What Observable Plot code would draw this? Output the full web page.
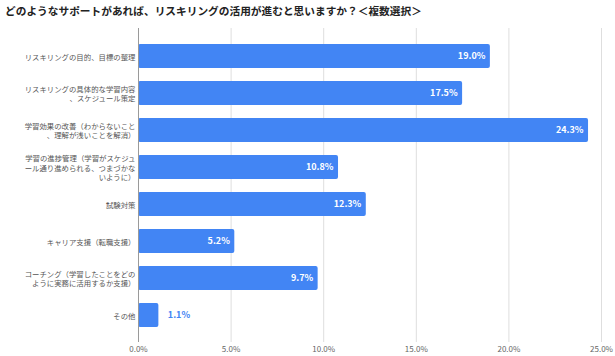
<!DOCTYPE html>
<html><head><meta charset="utf-8">
<script src="https://cdn.jsdelivr.net/npm/d3@7"></script>
<script src="https://cdn.jsdelivr.net/npm/@observablehq/plot@0.6"></script>
<style>
body{margin:0;background:#fff;font-family:"Noto Sans CJK JP","Noto Sans",sans-serif;}
#title{height:22px;line-height:21px;padding-left:5px;font-size:10.7px;font-weight:bold;color:#222;white-space:nowrap;}
</style></head><body>
<div id="title">どのようなサポートがあれば、リスキリングの活用が進むと思いますか？＜複数選択＞</div>
<div id="chart"></div>
<script>
const categories = [
  "リスキリングの目的、目標の整理",
  "リスキリングの具体的な学習内容\n、スケジュール策定",
  "学習効果の改善（わからないこと\n、理解が浅いことを解消）",
  "学習の進捗管理（学習がスケジュ\nール通り進められる、つまづかな\nいように）",
  "試験対策",
  "キャリア支援（転職支援）",
  "コーチング（学習したことをどの\nように実務に活用するか支援）",
  "その他"
];
const values = [19.0, 17.5, 24.3, 10.8, 12.3, 5.2, 9.7, 1.1];
const xTicks = [0, 5, 10, 15, 20, 25];

const data = categories.map((c, i) => ({category: c, value: values[i]}));
const fmt = v => v.toFixed(1) + "%";

const chart = Plot.plot({
  width: 615,
  height: 334,
  marginTop: 6,
  marginBottom: 14,
  marginLeft: 138,
  marginRight: 14,
  style: {fontFamily: '"Noto Sans CJK JP","Noto Sans",sans-serif', background: "#fff"},
  x: {domain: [0, 25], ticks: xTicks, tickFormat: d => d.toFixed(1) + "%", label: null},
  y: {domain: categories, padding: 0.36, label: null},
  marks: [
    Plot.ruleX(xTicks.filter(d => d > 0), {stroke: "#dedede", strokeWidth: 1}),
    Plot.barX(data, {x: "value", y: "category", fill: "#4285f4", rx: 2}),
    Plot.ruleX([0], {stroke: "#9a9a9a", strokeWidth: 1}),
    Plot.text(data.filter(d => d.value >= 3), {x: "value", y: "category", text: d => fmt(d.value), textAnchor: "end", dx: -5, fill: "#fff", fontWeight: "bold", fontSize: 9}),
    Plot.text(data.filter(d => d.value < 3), {x: "value", y: "category", text: d => fmt(d.value), textAnchor: "start", dx: 9, fill: "#4285f4", fontWeight: "bold", fontSize: 9}),
    Plot.axisX({ticks: xTicks, tickSize: 0, tickPadding: 4, fontSize: 8, color: "#666", tickFormat: d => d.toFixed(1) + "%"}),
    Plot.axisY({tickSize: 0, tickPadding: 3, fontSize: 7.4, color: "#555", lineHeight: 1.3, textAnchor: "end"})
  ]
});
document.getElementById("chart").appendChild(chart);
</script>
</body></html>
